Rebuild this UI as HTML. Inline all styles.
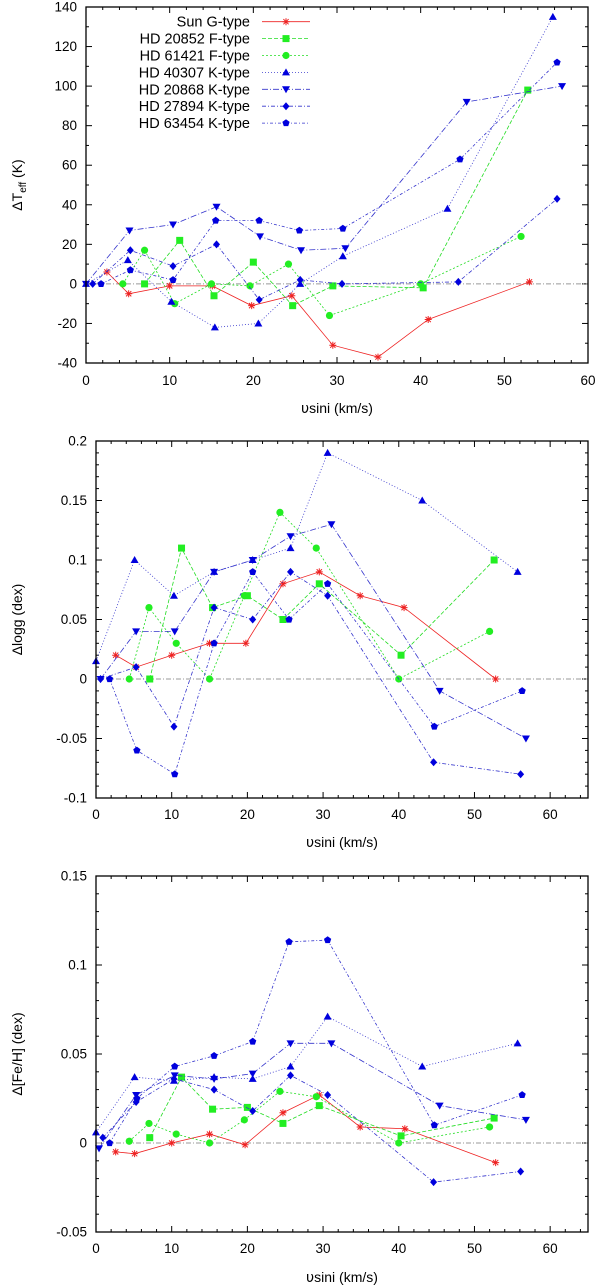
<!DOCTYPE html>
<html><head><meta charset="utf-8">
<style>
html,body{margin:0;padding:0;background:#fff;}
svg{display:block;font-family:"Liberation Sans",sans-serif;}
</style></head>
<body>
<svg id="fig" width="600" height="1288" viewBox="0 0 600 1288" xmlns="http://www.w3.org/2000/svg"></svg>
<script>
// ---------- Data ----------
const seriesNames = ["Sun G-type","HD 20852 F-type","HD 61421 F-type","HD 40307 K-type","HD 20868 K-type","HD 27894 K-type","HD 63454 K-type"];

// Panel 1: ΔTeff
const teffSunX = [2.5,5.1,10,15.1,19.8,24.6,29.5,34.9,40.9,53];
const teffSunY = [6,-5,-1,-1,-11,-6,-31,-37,-18,1];
const teff20852X = [7,11.2,15.3,20,24.7,29.5,40.3,52.8];
const teff20852Y = [0,22,-6,11,-11,-1,-2,98];
const teff61421X = [4.4,7,10.6,15,19.6,24.2,29.1,40,52];
const teff61421Y = [0,17,-10,0,-1,10,-16,0,24];
const teff40307X = [0,5,10.2,15.4,20.6,25.6,30.7,43.2,55.8];
const teff40307Y = [0,12,-9,-22,-20,0,14,38,135];
const teff20868X = [0,5.2,10.4,15.6,20.8,25.7,31,45.5,56.9];
const teff20868Y = [0,27,30,39,24,17,18,92,100];
const teff27894X = [0.8,5.3,10.4,15.6,20.7,25.6,30.6,44.5,56.3];
const teff27894Y = [0,17,9,20,-8,2,0,1,43];
const teff63454X = [1.8,5.3,10.4,15.5,20.7,25.5,30.7,44.7,56.3];
const teff63454Y = [0,7,2,32,32,27,28,63,112];

// Panel 2: Δlogg
const loggSunX = [2.6,5.3,10,15,19.8,24.7,29.5,34.9,40.7,52.8];
const loggSunY = [0.02,0.01,0.02,0.03,0.03,0.08,0.09,0.07,0.06,0];
const logg20852X = [7.1,11.3,15.4,20,24.7,29.5,40.3,52.6];
const logg20852Y = [0,0.11,0.06,0.07,0.05,0.08,0.02,0.1];
const logg61421X = [4.4,7,10.6,15,19.6,24.3,29.1,40,52];
const logg61421Y = [0,0.06,0.03,0,0.07,0.14,0.11,0,0.04];
const logg40307X = [0,5.1,10.3,15.6,20.7,25.7,30.6,43.1,55.7];
const logg40307Y = [0.015,0.1,0.07,0.09,0.1,0.11,0.19,0.15,0.09];
const logg20868X = [0.6,5.3,10.4,15.6,20.7,25.7,31.1,45.4,56.8];
const logg20868Y = [0,0.04,0.04,0.09,0.1,0.12,0.13,-0.01,-0.05];
const logg27894X = [0.6,5.3,10.3,15.6,20.7,25.7,30.6,44.6,56.1];
const logg27894Y = [0,0.01,-0.04,0.06,0.05,0.09,0.07,-0.07,-0.08];
const logg63454X = [1.8,5.4,10.4,15.6,20.7,25.5,30.6,44.7,56.3];
const logg63454Y = [0,-0.06,-0.08,0.03,0.09,0.05,0.08,-0.04,-0.01];

// Panel 3: Δ[Fe/H]
const fehSunX = [2.6,5.1,10,15,19.7,24.7,29.5,34.9,40.8,52.8];
const fehSunY = [-0.005,-0.006,0,0.005,-0.001,0.017,0.027,0.009,0.008,-0.011];
const feh20852X = [7.1,11.3,15.4,20,24.7,29.5,40.3,52.6];
const feh20852Y = [0.003,0.037,0.019,0.02,0.011,0.021,0.004,0.014];
const feh61421X = [4.4,7,10.6,15,19.6,24.3,29.1,40,52];
const feh61421Y = [0.001,0.011,0.005,0,0.013,0.029,0.026,0,0.009];
const feh40307X = [0,5.1,10.3,15.6,20.7,25.7,30.6,43.1,55.7];
const feh40307Y = [0.006,0.037,0.035,0.037,0.036,0.043,0.071,0.043,0.056];
const feh20868X = [0.4,5.3,10.4,15.6,20.7,25.7,31.1,45.4,56.8];
const feh20868Y = [-0.003,0.027,0.038,0.036,0.039,0.056,0.056,0.021,0.013];
const feh27894X = [0.9,5.3,10.3,15.6,20.7,25.7,30.6,44.6,56.1];
const feh27894Y = [0.003,0.023,0.036,0.03,0.018,0.038,0.027,-0.022,-0.016];
const feh63454X = [1.8,5.4,10.4,15.6,20.7,25.5,30.6,44.7,56.3];
const feh63454Y = [0,0.025,0.043,0.049,0.057,0.113,0.114,0.01,0.027];

const teffTicksY = [-40,-20,0,20,40,60,80,100,120,140];
const loggTicksY = [-0.1,-0.05,0,0.05,0.1,0.15,0.2];
const loggTickLabels = ["-0.1","-0.05","0","0.05","0.1","0.15","0.2"];
const fehTicksY = [-0.05,0,0.05,0.1,0.15];
const fehTickLabels = ["-0.05","0","0.05","0.1","0.15"];
const ticksX60 = [0,10,20,30,40,50,60];

// ---------- Styles ----------
const styles = [
 {line:"#ee2222", dash:"", marker:"star", fill:"#ee2222"},
 {line:"#22dd22", dash:"4,2", marker:"square", fill:"#22ee22"},
 {line:"#22dd22", dash:"2,2", marker:"circle", fill:"#22ee22"},
 {line:"#3333cc", dash:"1,2", marker:"up", fill:"#0000dd"},
 {line:"#3333cc", dash:"6,2,1,2", marker:"down", fill:"#0000dd"},
 {line:"#3333cc", dash:"4,2,1,2", marker:"diamond", fill:"#0000dd"},
 {line:"#3333cc", dash:"3,2,1,2", marker:"pentagon", fill:"#0000dd"}
];

const NS="http://www.w3.org/2000/svg";
const svg=document.getElementById('fig');
function mk(tag,attrs,parent){const e=document.createElementNS(NS,tag);for(const k in attrs)e.setAttribute(k,attrs[k]);(parent||svg).appendChild(e);return e;}

function drawMarker(g,type,cx,cy,color){
  let e;
  const s=3.5;
  if(type==="star"){
    e=mk('path',{d:`M${cx-s},${cy}H${cx+s}M${cx},${cy-s}V${cy+s}M${cx-s*0.75},${cy-s*0.75}L${cx+s*0.75},${cy+s*0.75}M${cx-s*0.75},${cy+s*0.75}L${cx+s*0.75},${cy-s*0.75}`,stroke:color,'stroke-width':1,fill:'none'},g);
  } else if(type==="square"){
    e=mk('rect',{x:cx-3.5,y:cy-3.5,width:7,height:7,fill:color},g);
  } else if(type==="circle"){
    e=mk('circle',{cx:cx,cy:cy,r:3.6,fill:color},g);
  } else if(type==="up"){
    e=mk('polygon',{points:`${cx},${cy-4} ${cx+4},${cy+3} ${cx-4},${cy+3}`,fill:color},g);
  } else if(type==="down"){
    e=mk('polygon',{points:`${cx},${cy+4} ${cx+4},${cy-3} ${cx-4},${cy-3}`,fill:color},g);
  } else if(type==="diamond"){
    e=mk('polygon',{points:`${cx},${cy-4} ${cx+3.5},${cy} ${cx},${cy+4} ${cx-3.5},${cy}`,fill:color},g);
  } else {
    let pts=[];for(let i=0;i<5;i++){const a=-Math.PI/2+i*2*Math.PI/5;pts.push((cx+3.8*Math.cos(a)).toFixed(2)+","+(cy+3.8*Math.sin(a)).toFixed(2));}
    e=mk('polygon',{points:pts.join(' '),fill:color},g);
  }
  return e;
}

function panel(cfg){
  const {name,left,right,top,bottom,xmin,xmax,ymin,ymax,xTicks,xMinor,yTicks,yLabels,yMinor,ylabelHtml,series,legend,titleY,tickLabelY}=cfg;
  const g=mk('g',{});
  
  
  const X=v=>left+(v-xmin)/(xmax-xmin)*(right-left);
  const Y=v=>bottom-(v-ymin)/(ymax-ymin)*(bottom-top);
  const tg=mk('g',{stroke:'#000','stroke-width':1},g);
  
  
  for(let v=xmin;v<=xmax+1e-9;v+=xMinor){
    const major=xTicks.some(t=>Math.abs(t-v)<1e-6);const L=major?6:3;const x=X(v);
    mk('line',{x1:x,y1:bottom,x2:x,y2:bottom-L},tg);mk('line',{x1:x,y1:top,x2:x,y2:top+L},tg);
  }
  for(let v=ymin;v<=ymax+1e-9;v+=yMinor){
    const major=yTicks.some(t=>Math.abs(t-v)<1e-6);const L=major?6:3;const y=Y(v);
    mk('line',{x1:left,y1:y,x2:left+L,y2:y},tg);mk('line',{x1:right,y1:y,x2:right-L,y2:y},tg);
  }
  xTicks.forEach(t=>{const e=mk('text',{x:X(t),y:tickLabelY,'text-anchor':'middle','font-size':13.5},g);e.textContent=t;
    
    });
  yTicks.forEach((t,i)=>{const e=mk('text',{x:left-9,y:Y(t)+4.5,'text-anchor':'end','font-size':13.5},g);e.textContent=yLabels[i];
    
    });
  const xt=mk('text',{x:(left+right)/2,y:titleY,'text-anchor':'middle','font-size':14},g);
  xt.innerHTML='<tspan font-family="DejaVu Sans, sans-serif">υ</tspan>sini (km/s)';
  
  
  const yt=mk('text',{x:0,y:0,'text-anchor':'middle','font-size':14,transform:`translate(22,${(top+bottom)/2}) rotate(-90)`},g);
  yt.innerHTML=ylabelHtml;
  
  
  const z=mk('line',{x1:left,x2:right,y1:Y(0),y2:Y(0),stroke:'#999','stroke-width':1,'stroke-dasharray':'5,2,1,2'},g);
  
  
  series.forEach((s,i)=>{
    const st=styles[i];
    const sg=mk('g',{},g);
    
    
    const d=s.x.map((v,j)=>(j?'L':'M')+X(v).toFixed(2)+','+Y(s.y[j]).toFixed(2)).join('');
    mk('path',{d:d,fill:'none',stroke:st.line,'stroke-width':0.8,'stroke-dasharray':st.dash},sg);
    s.x.forEach((v,j)=>{const m=drawMarker(sg,st.marker,X(v),Y(s.y[j]),st.fill);
      
      });
  });
  const fr=mk('rect',{x:left,y:top,width:right-left,height:bottom-top,fill:'none',stroke:'#000','stroke-width':1.3},g);
  
  
  if(legend){
    const lg=mk('g',{},g);
    
    
    seriesNames.forEach((n,i)=>{
      const y=21.7+i*16.9;const st=styles[i];
      const eg=mk('g',{},lg);
      
      
      const t=mk('text',{x:250,y:y+5,'text-anchor':'end','font-size':14.5},eg);t.textContent=n;
      mk('line',{x1:262,x2:310,y1:y,y2:y,stroke:st.line,'stroke-width':0.8,'stroke-dasharray':st.dash},eg);
      drawMarker(eg,st.marker,286,y,st.fill);
    });
  }
}

panel({name:'teff-panel',left:86,right:588,top:7,bottom:363,xmin:0,xmax:60,ymin:-40,ymax:140,
  xTicks:ticksX60,xMinor:2,yTicks:teffTicksY,yLabels:teffTicksY.map(String),yMinor:10,
  ylabelHtml:'ΔT<tspan font-size="10" dy="4">eff</tspan><tspan dy="-4"> (K)</tspan>',
  series:[{x:teffSunX,y:teffSunY},{x:teff20852X,y:teff20852Y},{x:teff61421X,y:teff61421Y},{x:teff40307X,y:teff40307Y},{x:teff20868X,y:teff20868Y},{x:teff27894X,y:teff27894Y},{x:teff63454X,y:teff63454Y}],
  legend:true,titleY:413,tickLabelY:385});

panel({name:'logg-panel',left:96,right:588,top:441,bottom:798,xmin:0,xmax:65,ymin:-0.1,ymax:0.2,
  xTicks:ticksX60,xMinor:2,yTicks:loggTicksY,yLabels:loggTickLabels,yMinor:0.01,
  ylabelHtml:'Δlogg (dex)',
  series:[{x:loggSunX,y:loggSunY},{x:logg20852X,y:logg20852Y},{x:logg61421X,y:logg61421Y},{x:logg40307X,y:logg40307Y},{x:logg20868X,y:logg20868Y},{x:logg27894X,y:logg27894Y},{x:logg63454X,y:logg63454Y}],
  legend:false,titleY:847,tickLabelY:819});

panel({name:'feh-panel',left:96,right:588,top:876,bottom:1232,xmin:0,xmax:65,ymin:-0.05,ymax:0.15,
  xTicks:ticksX60,xMinor:2,yTicks:fehTicksY,yLabels:fehTickLabels,yMinor:0.01,
  ylabelHtml:'Δ[Fe/H] (dex)',
  series:[{x:fehSunX,y:fehSunY},{x:feh20852X,y:feh20852Y},{x:feh61421X,y:feh61421Y},{x:feh40307X,y:feh40307Y},{x:feh20868X,y:feh20868Y},{x:feh27894X,y:feh27894Y},{x:feh63454X,y:feh63454Y}],
  legend:false,titleY:1282,tickLabelY:1253});
</script>
</body></html>
